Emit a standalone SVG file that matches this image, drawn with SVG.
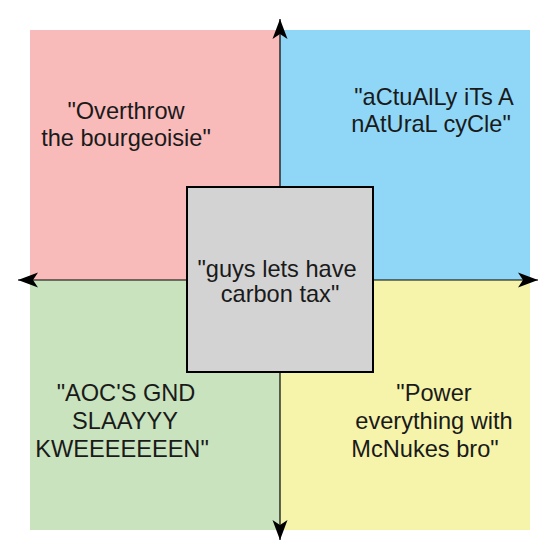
<svg xmlns="http://www.w3.org/2000/svg" width="560" height="560" viewBox="0 0 560 560">
<style>
text{font-family:"Liberation Sans",Arial,sans-serif;font-size:23.6px;fill:#1a1a1a;text-anchor:middle}
.axis{stroke:#000;stroke-width:1.2;fill:none}
</style>
<defs>
<marker id="arr" markerUnits="userSpaceOnUse" markerWidth="24" markerHeight="18" refX="20" refY="8" orient="auto" viewBox="0 0 24 16">
<path d="M20,8 L0,0.5 L5,8 L0,15.5 Z" fill="#000"/>
</marker>
</defs>
<rect width="560" height="560" fill="#fff"/>
<g id="q-tl"><rect x="30" y="30" width="250" height="250" fill="#F9BABA"/>
<text x="126" y="119">"Overthrow</text><text x="126" y="146">the bourgeoisie"</text></g>
<g id="q-tr"><rect x="280" y="30" width="250" height="250" fill="#90D7F7"/>
<text x="434" y="105">"aCtuAlLy iTs A</text><text x="431" y="132">nAtUraL cyCle"</text></g>
<g id="q-bl"><rect x="30" y="280" width="250" height="250" fill="#C8E3BD"/>
<text x="126" y="401">"AOC'S GND</text><text x="125" y="429">SLAAYYY</text><text x="122" y="457">KWEEEEEEEN"</text></g>
<g id="q-br"><rect x="280" y="280" width="250" height="250" fill="#F5F4AA"/>
<text x="434" y="401">"Power</text><text x="434" y="429">everything with</text><text x="425" y="457">McNukes bro"</text></g>
<g id="connectors">
<line class="axis" x1="280" y1="280" x2="280" y2="19" marker-end="url(#arr)"/>
<line class="axis" x1="280" y1="280" x2="280" y2="540" marker-end="url(#arr)"/>
<line class="axis" x1="280" y1="280" x2="18" y2="280" marker-end="url(#arr)"/>
<line class="axis" x1="280" y1="280" x2="538" y2="280" marker-end="url(#arr)"/>
</g>
<g id="center"><rect x="187" y="187" width="186" height="185" fill="#D3D3D3" stroke="#000" stroke-width="2"/>
<text x="277" y="277">"guys lets have</text><text x="280" y="302">carbon tax"</text></g>
</svg>
